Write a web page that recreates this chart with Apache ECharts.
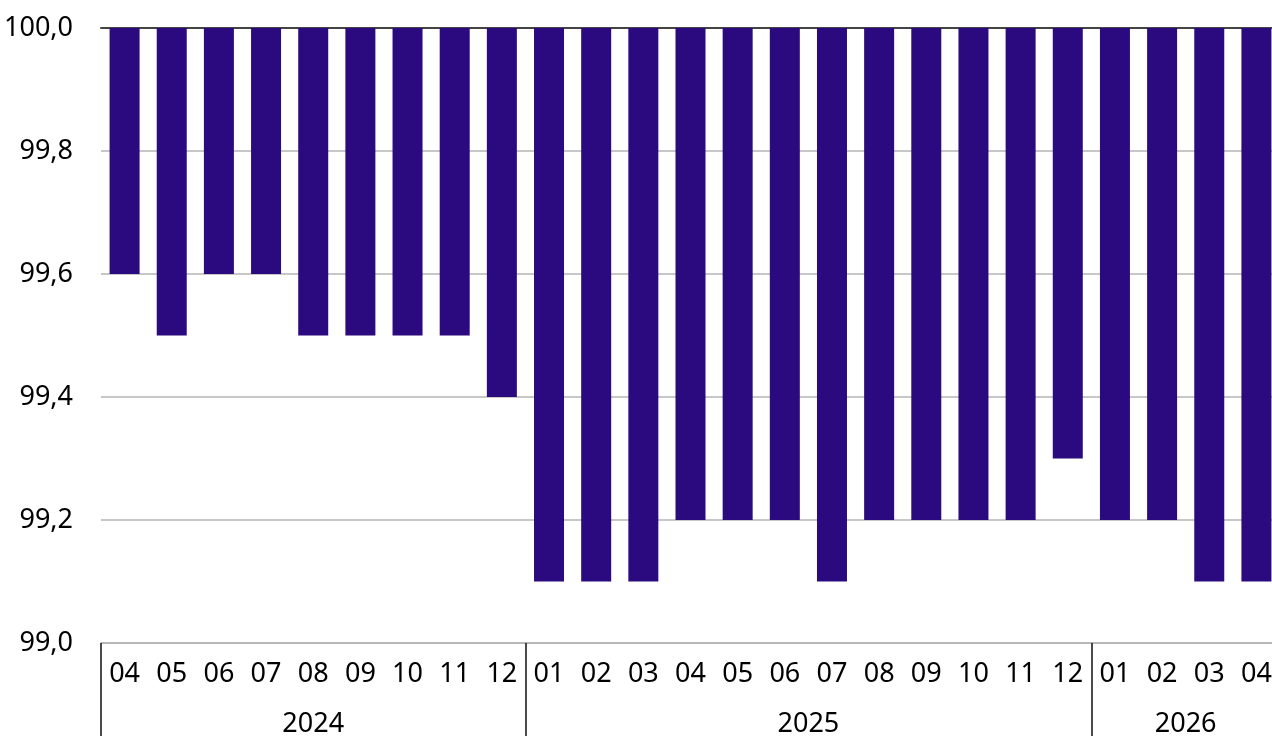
<!DOCTYPE html>
<html>
<head>
<meta charset="utf-8">
<script src="https://cdn.jsdelivr.net/npm/echarts@6/dist/echarts.min.js"></script>
<style>
html,body{margin:0;padding:0;background:#fff;overflow:hidden;}
#main{width:1272px;height:736px;}
</style>
</head>
<body>
<div id="main"></div>
<script>
// données
var months = ['04','05','06','07','08','09','10','11','12',
              '01','02','03','04','05','06','07','08','09','10','11','12',
              '01','02','03','04'];
var years = ['2024', '2025', '2026'];
var yearLengths = [9, 12, 4];
var values = [99.6, 99.5, 99.6, 99.6, 99.5, 99.5, 99.5, 99.5, 99.4,
              99.1, 99.1, 99.1, 99.2, 99.2, 99.2, 99.1, 99.2, 99.2, 99.2, 99.2, 99.3,
              99.2, 99.2, 99.1, 99.1];
var yTicks = [99.0, 99.2, 99.4, 99.6, 99.8, 100.0];

var FONT = 'Noto Sans';

// bornes des années (index des mois)
var bounds = [0];
for (var i = 0; i < yearLengths.length; i++) {
    bounds.push(bounds[i] + yearLengths[i]);
}

// axe des années : points à demi-pas (2 * n + 1), libellé au milieu de chaque année
var yearSlots = [];
for (var k = 0; k <= months.length * 2; k++) yearSlots.push('');
for (var i = 0; i < years.length; i++) {
    yearSlots[bounds[i] + bounds[i + 1]] = years[i];
}

var hang = values.map(function (v) { return Math.round((100 - v) * 10) / 10; });

var myChart = echarts.init(document.getElementById('main'));
myChart.setOption({
    animation: false,
    grid: { left: 101, width: 1179, top: 28, height: 615, containLabel: false, outerBoundsMode: 'none' },
    xAxis: [{
        type: 'category',
        data: months,
        position: 'bottom',
        axisLine: { show: true, lineStyle: { color: '#b3b3b3', width: 1.5 } },
        axisTick: {
            show: true,
            length: 95,
            interval: function (idx) { return bounds.indexOf(idx) >= 0; },
            lineStyle: { color: '#111', width: 1.5 }
        },
        axisLabel: { interval: 0, margin: 18, fontFamily: FONT, fontSize: 27, color: '#000' },
        splitLine: { show: false }
    }, {
        type: 'category',
        data: yearSlots,
        position: 'bottom',
        offset: 50,
        boundaryGap: false,
        axisLine: { show: false },
        axisTick: { show: false },
        axisLabel: { interval: 0, margin: 18, fontFamily: FONT, fontSize: 27, color: '#000' },
        splitLine: { show: false }
    }, {
        type: 'category',
        data: months,
        position: 'top',
        axisLine: { show: true, lineStyle: { color: '#444', width: 2 } },
        axisTick: { show: false },
        axisLabel: { show: false }
    }],
    yAxis: {
        type: 'value',
        min: 99,
        max: 100,
        interval: 0.2,
        axisLine: { show: false },
        axisTick: { show: false },
        axisLabel: {
            margin: 28,
            fontFamily: FONT,
            fontSize: 27,
            color: '#000',
            formatter: function (v) {
                var t = yTicks.find(function (y) { return Math.abs(y - v) < 1e-6; });
                return t === undefined ? '' : t.toFixed(1).replace('.', ',');
            }
        },
        splitLine: { lineStyle: { color: '#b5b5b5', width: 1.5 } }
    },
    series: [{
        type: 'bar',
        stack: 'b',
        data: values,
        barWidth: 30,
        itemStyle: { color: 'transparent' },
        silent: true
    }, {
        type: 'bar',
        stack: 'b',
        data: hang,
        barWidth: 30,
        itemStyle: { color: '#2a0a7e' }
    }]
});
</script>
</body>
</html>
